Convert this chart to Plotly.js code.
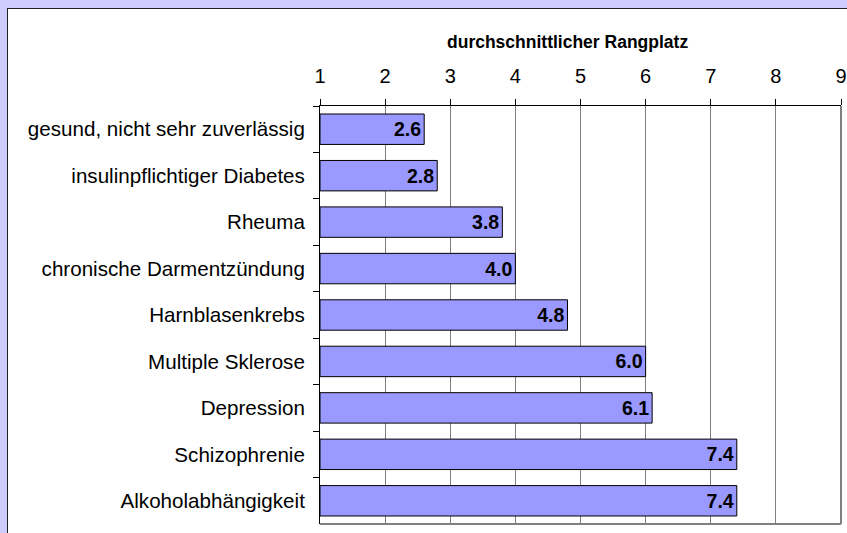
<!DOCTYPE html>
<html>
<head>
<meta charset="utf-8">
<script src="https://cdn.plot.ly/plotly-3.0.1.min.js"></script>
<style>
html,body{margin:0;padding:0;background:#CCCCFF;overflow:hidden;width:847px;height:533px;}
#box{position:absolute;left:7px;top:8px;border-left:1px solid #222;border-top:1px solid #222;background:#fff;width:840px;height:525px;}
#chart{width:840px;height:525px;}
</style>
</head>
<body>
<div id="box"><div id="chart"></div></div>
<script>
const categories = ["gesund, nicht sehr zuverlässig","insulinpflichtiger Diabetes","Rheuma","chronische Darmentzündung","Harnblasenkrebs","Multiple Sklerose","Depression","Schizophrenie","Alkoholabhängigkeit"];
const values = [2.6, 2.8, 3.8, 4.0, 4.8, 6.0, 6.1, 7.4, 7.4];
const axisStart = 1;
const tickVals = [1,2,3,4,5,6,7,8,9];
const axisTitle = "durchschnittlicher Rangplatz";

const FONT = "Liberation Sans, Arial, sans-serif";

const trace = {
  type: "bar",
  orientation: "h",
  y: categories,
  x: values.map(v => v - axisStart),
  base: axisStart,
  text: values.map(v => v.toFixed(1)),
  textposition: "inside",
  insidetextanchor: "end",
  textangle: 0,
  constraintext: "none",
  textfont: {family: FONT, size: 19.5, color: "#000", weight: "bold"},
  marker: {color: "#9999FF", line: {color: "#000", width: 1}},
  hoverinfo: "skip"
};

const layout = {
  width: 840, height: 525,
  margin: {l: 312, r: 7, t: 97, b: 10},
  paper_bgcolor: "rgba(0,0,0,0)",
  plot_bgcolor: "#fff",
  showlegend: false,
  bargap: 0.345,
  font: {family: FONT, color: "#000"},
  xaxis: {
    side: "top",
    range: [1, 9],
    tickvals: tickVals,
    ticks: "outside", ticklen: 6, tickcolor: "#000", tickwidth: 1,
    ticklabelstandoff: 8,
    tickfont: {family: FONT, size: 20, color: "#000"},
    showline: true, linecolor: "#000", linewidth: 1,
    showgrid: true, gridcolor: "#808080", gridwidth: 1,
    zeroline: false,
    fixedrange: true
  },
  yaxis: {
    autorange: "reversed",
    tickson: "boundaries",
    ticks: "outside", ticklen: 6, tickcolor: "#000", tickwidth: 1,
    ticklabelstandoff: 10,
    tickfont: {family: FONT, size: 20.6, color: "#000"},
    showline: true, linecolor: "#000", linewidth: 1,
    showgrid: false, zeroline: false,
    fixedrange: true
  },
  shapes: [
    {type: "line", xref: "paper", yref: "paper", x0: 0, x1: 1, y0: 0, y1: 0, line: {color: "#808080", width: 2}},
    {type: "line", xref: "paper", yref: "paper", x0: 1, x1: 1, y0: 0, y1: 1, line: {color: "#808080", width: 2}}
  ],
  annotations: [
    {text: "<b>" + axisTitle + "</b>", xref: "paper", yref: "paper", x: 0.475, y: 1, yshift: 64, xanchor: "center", yanchor: "middle", showarrow: false, font: {family: FONT, size: 17.5, color: "#000"}}
  ]
};

Plotly.newPlot("chart", [trace], layout, {displayModeBar: false, staticPlot: true});
</script>
</body>
</html>
